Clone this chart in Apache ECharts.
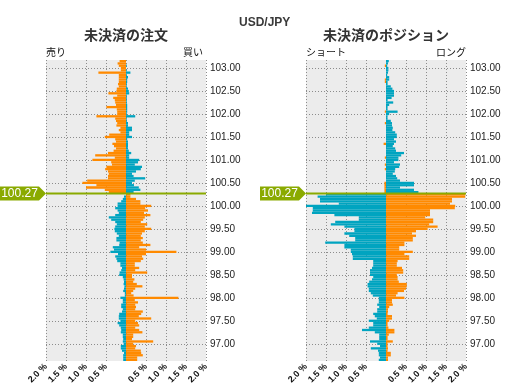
<!DOCTYPE html>
<html><head><meta charset="utf-8">
<script src="https://cdn.jsdelivr.net/npm/echarts@6/dist/echarts.min.js"></script>
<style>html,body{margin:0;padding:0;background:#fff}#c{width:511px;height:383px}</style>
</head><body><div id="c"></div>
<script>
// price buckets (top to bottom)
const prices = ["103.15","103.10","103.05","103.00","102.95","102.90","102.85","102.80","102.75","102.70",
"102.65","102.60","102.55","102.50","102.45","102.40","102.35","102.30","102.25","102.20",
"102.15","102.10","102.05","102.00","101.95","101.90","101.85","101.80","101.75","101.70",
"101.65","101.60","101.55","101.50","101.45","101.40","101.35","101.30","101.25","101.20",
"101.15","101.10","101.05","101.00","100.95","100.90","100.85","100.80","100.75","100.70",
"100.65","100.60","100.55","100.50","100.45","100.40","100.35","100.30","100.25","100.20",
"100.15","100.10","100.05","100.00","99.95","99.90","99.85","99.80","99.75","99.70",
"99.65","99.60","99.55","99.50","99.45","99.40","99.35","99.30","99.25","99.20",
"99.15","99.10","99.05","99.00","98.95","98.90","98.85","98.80","98.75","98.70",
"98.65","98.60","98.55","98.50","98.45","98.40","98.35","98.30","98.25","98.20",
"98.15","98.10","98.05","98.00","97.95","97.90","97.85","97.80","97.75","97.70",
"97.65","97.60","97.55","97.50","97.45","97.40","97.35","97.30","97.25","97.20",
"97.15","97.10","97.05","97.00","96.95","96.90","96.85","96.80","96.75","96.70","96.65"];
const currentPrice = 100.27;
const currentLabel = "100.27";

// 未決済の注文 (%): left = 売り, right = 買い
const orderSell = [0.16,0.21,0.18,0.13,0.13,0.69,0.18,0.18,0.18,0.18,
0.20,0.18,0.23,0.24,0.44,0.22,0.32,0.28,0.27,0.25,
0.49,0.23,0.22,0.22,0.74,0.27,0.25,0.22,0.24,0.14,
0.18,0.14,0.42,0.53,0.27,0.25,0.34,0.30,0.25,0.31,
0.45,0.77,0.28,0.84,0.37,0.35,0.49,0.52,0.45,0.43,
0.45,0.45,0.97,1.09,0.74,1.00,0.53,0.43,
0,0.05,0.08,0.12,0.21,0.21,0.27,0.21,0.18,0.27,
0.43,0.37,0.27,0.23,0.27,0.29,0.28,0.23,0.18,0.24,
0.24,0.16,0.17,0.33,0.30,0.39,0.20,0.27,0.24,0.22,
0.14,0.14,0.10,0.12,0.16,0.17,0.08,0.06,0.05,0.06,
0.04,0.05,0.07,0.03,0.03,0.14,0.08,0.08,0.12,0.12,
0.08,0.10,0.17,0.18,0.18,0.14,0.21,0.17,0.13,0.12,
0.13,0.08,0.08,0.07,0.08,0.06,0.13,0.13,0.10,0.05,
0.07,0.07,0.07];
const orderBuy = [0,0,0.02,0,0.02,0.11,0.02,0.05,0.03,0.03,
0.02,0.02,0.05,0.07,0.08,0.02,0.02,0.02,0.02,0.03,
0.03,0.03,0.03,0.02,0.23,0.02,0.02,0.05,0.05,0.15,
0.15,0.08,0.08,0.15,0.03,0.05,0.05,0.05,0.05,0.07,
0.13,0.08,0.08,0.33,0.30,0.22,0.40,0.37,0.25,0.15,
0.19,0.48,0.22,0.15,0.20,0.32,0.36,0.19,
0.11,0.11,0.25,0.36,0.36,0.63,0.48,0.55,0.45,0.61,
0.47,0.43,0.37,0.53,0.47,0.63,0.47,0.40,0.37,0.42,
0.37,0.42,0.61,0.33,0.50,1.26,0.50,0.40,0.43,0.37,
0.22,0.22,0.33,0.23,0.53,0.15,0.15,0.21,0.18,0.27,
0.41,0.23,0.18,0.13,0.19,1.31,0.22,0.30,0.23,0.25,
0.23,0.42,0.38,0.32,0.63,0.23,0.30,0.33,0.23,0.33,
0.41,0.18,0.18,0.15,0.68,0.18,0.25,0.23,0.37,0.38,
0.42,0.28,0.28];

// 未決済のポジション (%): left = ショート, right = ロング
const posShort = [0,0,0.03,0,0,0,0,0,0.03,0.03,
0,0,0,0,0,0,0,0,0,0,
0,0,0.03,0,0,0,0,0.03,0,0,
0,0,0,0,0,0,0.06,0,0,0,
0,0,0.03,0,0,0.03,0,0.03,0,0,
0,0,0,0.04,0.04,0.04,0.04,0.04,
1.5,1.71,1.65,1.65,1.18,2.0,1.83,1.83,1.85,1.29,
0.68,0.68,1.27,1.38,1.04,0.79,0.79,1.04,0.92,0.77,
0.77,1.52,1.04,1.04,0.88,0.88,0.85,0.83,0.83,0.32,
0.32,0.32,0.35,0.40,0.40,0.40,0.32,0.35,0.42,0.46,
0.46,0.43,0.43,0.38,0.33,0.18,0.18,0.18,0.22,0.17,
0.22,0.22,0.32,0.28,0.23,0.43,0.32,0.32,0.43,0.60,
0.28,0.17,0.17,0.17,0.40,0.22,0.15,0.38,0.20,0.18,
0.18,0.15,0.18];
const posLong = [0.07,0.05,0.03,0.06,0.06,0.05,0.03,0.08,0.08,0.04,
0.04,0.12,0.16,0.2,0.2,0.2,0.14,0.04,0.18,0.08,
0.04,0.04,0.29,0.08,0.04,0.04,0.12,0.15,0.15,0.17,
0.16,0.23,0.27,0.27,0.2,0.25,0.2,0.17,0.23,0.25,
0.45,0.38,0.31,0.31,0.2,0.35,0.33,0.23,0.22,0.17,
0.25,0.28,0.35,0.70,0.70,0.35,0.70,0.81,
1.98,1.98,1.65,1.65,1.60,1.73,1.72,1.10,1.10,1.10,
0.98,1.18,1.18,1.08,1.29,1.04,0.75,0.65,0.75,0.67,
0.67,0.46,0.46,0.33,0.33,0.67,0.46,0.58,0.58,0.29,
0.27,0.27,0.40,0.43,0.43,0.27,0.29,0.29,0.32,0.52,
0.52,0.50,0.45,0.29,0.25,0.46,0.15,0.15,0.17,0.08,
0.05,0.05,0.04,0.15,0.15,0.08,0.04,0.04,0.06,0.21,
0.21,0.07,0.04,0.04,0.17,0.04,0.04,0.05,0.04,0.12,
0.12,0.05,0.05];

const ORANGE = '#ff8a00', TEAL = '#00a4c0', GREEN = '#8aaa00';
const FONT = '"Liberation Sans", Arial, sans-serif';
const CJK = '"Noto Sans CJK JP", sans-serif';

const isMajor = (i, v) => /\.(00|50)$/.test(v);
const leftColor = p => Number(prices[p.dataIndex]) > currentPrice ? ORANGE : TEAL;
const rightColor = p => Number(prices[p.dataIndex]) > currentPrice ? TEAL : ORANGE;

const grids = [{left: 46, top: 60, width: 160, height: 301}, {left: 306, top: 60, width: 160, height: 301}];

function xAx(g) {
  return {type: 'value', gridIndex: g, min: -2, max: 2, interval: 0.5,
    axisLine: {show: false}, axisTick: {show: false},
    splitLine: {show: true, lineStyle: {type: [1, 2], color: '#8c8c8c', width: 1}},
    axisLabel: {rotate: 45, fontSize: 9, fontWeight: 'bold', color: '#111', fontFamily: FONT, margin: 4,
      formatter: v => v === 0 ? '' : Math.abs(v).toFixed(1) + ' %'}};
}
function yCat(g) {
  return {type: 'category', gridIndex: g, data: prices, inverse: true, position: 'right',
    axisLine: {show: false}, axisTick: {show: false, alignWithLabel: true},
    axisLabel: {interval: isMajor, fontSize: 10, color: '#222', fontFamily: FONT, margin: 4},
    splitLine: {show: true, interval: isMajor, alignWithLabel: true, lineStyle: {type: [1, 2], color: '#8c8c8c', width: 1}}};
}
function yVal(g) {
  return {type: 'value', gridIndex: g, min: 96.625, max: 103.175, show: false,
    splitLine: {show: false}, axisLabel: {show: false}};
}
function bars(g, vals, neg, colorFn) {
  return {type: 'bar', xAxisIndex: g, yAxisIndex: g, barCategoryGap: 0, barGap: '-100%',
    data: vals.map(v => neg ? -v : v), itemStyle: {color: colorFn}, silent: true, animation: false};
}
function priceLine(g) {
  return {type: 'line', xAxisIndex: g, yAxisIndex: g + 2, data: [[-2, currentPrice], [2, currentPrice]],
    symbol: 'none', lineStyle: {color: GREEN, width: 2}, silent: true, animation: false, z: 5};
}

const chart = echarts.init(document.getElementById('c'), null, {renderer: 'canvas'});
chart.setOption({
  animation: false,
  backgroundColor: '#fff',
  grid: grids.map(g => Object.assign({show: true, backgroundColor: '#ececec', borderWidth: 0,
    containLabel: false, outerBoundsMode: 'none'}, g)),
  xAxis: [xAx(0), xAx(1)],
  yAxis: [yCat(0), yCat(1), yVal(0), yVal(1)],
  series: [
    bars(0, orderSell, true, leftColor), bars(0, orderBuy, false, rightColor),
    bars(1, posShort, true, leftColor), bars(1, posLong, false, rightColor),
    priceLine(0), priceLine(1)
  ]
});

const gr = [
  {type: 'text', left: 239, top: 17, style: {text: 'USD/JPY', font: 'bold 12px ' + FONT, fill: '#3a3a3a'}},
  {type: 'text', x: 126, y: 35, style: {text: '未決済の注文', font: 'bold 14px ' + CJK, fill: '#333', align: 'center', verticalAlign: 'middle'}},
  {type: 'text', x: 386, y: 35, style: {text: '未決済のポジション', font: 'bold 14px ' + CJK, fill: '#333', align: 'center', verticalAlign: 'middle'}},
  {type: 'text', x: 46, y: 52, style: {text: '売り', font: '10px ' + CJK, fill: '#111', align: 'left', verticalAlign: 'middle'}},
  {type: 'text', x: 203, y: 52, style: {text: '買い', font: '10px ' + CJK, fill: '#111', align: 'right', verticalAlign: 'middle'}},
  {type: 'text', x: 306, y: 52, style: {text: 'ショート', font: '10px ' + CJK, fill: '#111', align: 'left', verticalAlign: 'middle'}},
  {type: 'text', x: 466, y: 52, style: {text: 'ロング', font: '10px ' + CJK, fill: '#111', align: 'right', verticalAlign: 'middle'}}
];
[0, 1].forEach(g => {
  const p = chart.convertToPixel({xAxisIndex: g, yAxisIndex: g + 2}, [-2, currentPrice]);
  const x = p[0], y = p[1];
  gr.push({type: 'polygon', shape: {points: [[x - 46, y - 7], [x - 7, y - 7], [x, y], [x - 7, y + 7], [x - 46, y + 7]]},
    style: {fill: GREEN}, z: 10});
  gr.push({type: 'text', x: x - 26.5, y: y + 0.5, z: 11,
    style: {text: currentLabel, font: '12px ' + FONT, fill: '#fff', align: 'center', verticalAlign: 'middle'}});
});
chart.setOption({graphic: gr});
</script>
</body></html>
